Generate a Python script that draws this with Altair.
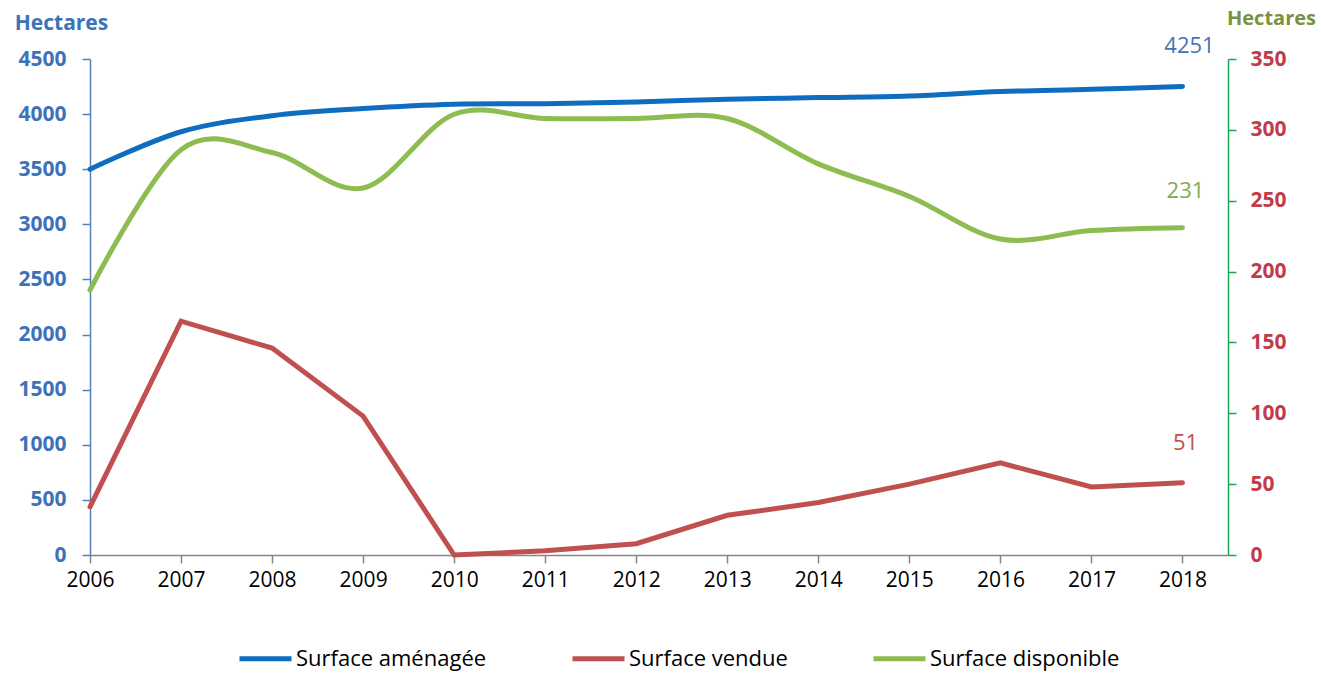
import altair as alt
import pandas as pd

years = [2006, 2007, 2008, 2009, 2010, 2011, 2012, 2013, 2014, 2015, 2016, 2017, 2018]
amenagee = [3500, 3840, 3985, 4050, 4090, 4095, 4110, 4135, 4150, 4165, 4205, 4225, 4251]
vendue = [34, 165, 146, 98, 0, 3, 8, 28, 37, 50, 65, 48, 51]
disponible = [187, 286, 284, 259, 311, 308, 308, 308, 276, 253, 223, 229, 231]

series_names = ["Surface aménagée", "Surface vendue", "Surface disponible"]
series_colors = ["#0f6dc0", "#c0504d", "#8dbd50"]

FONT = "Open Sans"

df_am = pd.DataFrame({"annee": years, "valeur": amenagee, "serie": series_names[0]})
df_ve = pd.DataFrame({"annee": years, "valeur": vendue, "serie": series_names[1]})
df_di = pd.DataFrame({"annee": years, "valeur": disponible, "serie": series_names[2]})

x_enc = alt.X(
    "annee:Q",
    scale=alt.Scale(domain=[2006, 2018.5], nice=False, zero=False),
    axis=alt.Axis(
        values=years, format="d", title=None, grid=False, labelFlush=False,
        domainColor="#868686", domainWidth=1.5, tickColor="#868686", tickSize=8, tickWidth=1.5,
        labelColor="#000000", labelFontSize=21, labelFont=FONT, labelPadding=6,
    ),
)

color_enc = alt.Color(
    "serie:N",
    scale=alt.Scale(domain=series_names, range=series_colors),
    legend=alt.Legend(
        title=None, orient="none", legendX=147, legendY=571, direction="horizontal",
        symbolType="stroke", symbolSize=2704, symbolStrokeWidth=5,
        labelFont=FONT, labelFontSize=22, labelColor="#000000", labelOffset=2,
        columnPadding=75, padding=0, labelLimit=400,
    ),
)

left_axis = alt.Axis(
    values=list(range(0, 4501, 500)), format="d", grid=False, title="Hectares", labelFlush=False,
    titleAngle=0, titleX=-29, titleY=-36, titleAlign="center", titleBaseline="middle",
    titleFont=FONT, titleFontSize=21, titleFontWeight="bold", titleColor="#3c73b8",
    domainColor="#5b80b8", domainWidth=1.5, tickColor="#5b80b8", tickSize=8, tickWidth=1.5,
    labelFont=FONT, labelFontSize=21, labelFontWeight="bold", labelColor="#3c73b8", labelPadding=16,
)

right_axis = alt.Axis(
    orient="right", values=list(range(0, 351, 50)), format="d", grid=False, title="Hectares", labelFlush=False,
    titleAngle=0, titleX=43, titleY=-41, titleAlign="center", titleBaseline="middle",
    titleFont=FONT, titleFontSize=20, titleFontWeight="bold", titleColor="#7a9140",
    domainColor="#1ea64f", domainWidth=1.5, tickColor="#1ea64f", tickSize=8, tickWidth=1.5,
    labelFont=FONT, labelFontSize=21, labelFontWeight="bold", labelColor="#c23b4b", labelPadding=14,
)

left_scale = alt.Scale(domain=[0, 4500], nice=False)
right_scale = alt.Scale(domain=[0, 350], nice=False)

blue = alt.Chart(df_am).mark_line(strokeWidth=5, interpolate="cardinal", strokeCap="round").encode(
    x=x_enc, y=alt.Y("valeur:Q", scale=left_scale, axis=left_axis), color=color_enc
)
blue_lbl = alt.Chart(df_am[df_am["annee"] == 2018]).mark_text(
    font=FONT, fontSize=22, color="#3f76b8", dx=7, dy=-40
).encode(x=x_enc, y=alt.Y("valeur:Q", scale=left_scale, axis=left_axis), text=alt.Text("valeur:Q", format="d"))

left = alt.layer(blue, blue_lbl)

red = alt.Chart(df_ve).mark_line(strokeWidth=5, strokeCap="round").encode(
    x=x_enc, y=alt.Y("valeur:Q", scale=right_scale, axis=right_axis), color=color_enc
)
green = alt.Chart(df_di).mark_line(strokeWidth=5, interpolate="cardinal", strokeCap="round").encode(
    x=x_enc, y=alt.Y("valeur:Q", scale=right_scale, axis=right_axis), color=color_enc
)
red_lbl = alt.Chart(df_ve[df_ve["annee"] == 2018]).mark_text(
    font=FONT, fontSize=22, color="#c0504d", dx=3, dy=-40
).encode(x=x_enc, y=alt.Y("valeur:Q", scale=right_scale, axis=right_axis), text=alt.Text("valeur:Q", format="d"))
green_lbl = alt.Chart(df_di[df_di["annee"] == 2018]).mark_text(
    font=FONT, fontSize=22, color="#86a95a", dx=3, dy=-37
).encode(x=x_enc, y=alt.Y("valeur:Q", scale=right_scale, axis=right_axis), text=alt.Text("valeur:Q", format="d"))

right = alt.layer(green, red, green_lbl, red_lbl)

chart = alt.layer(left, right).resolve_scale(y="independent").properties(
    width=1138, height=496,
    padding={"left": 90, "top": 59, "right": 93, "bottom": 118},
    autosize=alt.AutoSizeParams(type="none"),
    background="#ffffff",
).configure_view(stroke=None)

chart.save("out.html", embed_options={"renderer": "svg", "actions": False})
